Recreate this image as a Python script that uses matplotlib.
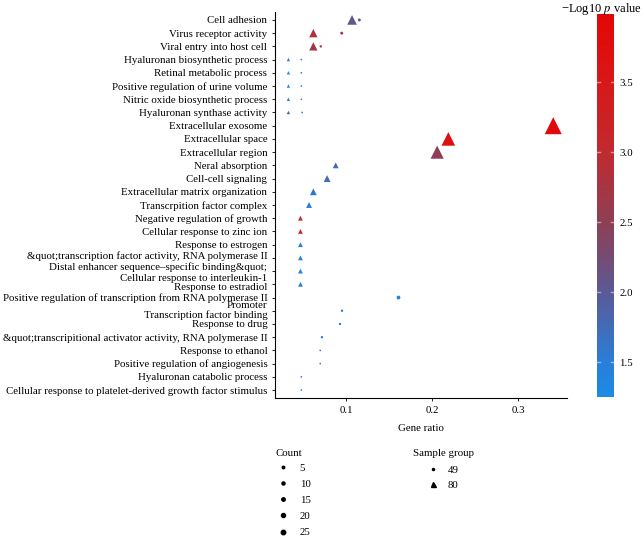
import numpy as np
import matplotlib
matplotlib.use("Agg")
import matplotlib.pyplot as plt
from matplotlib.colors import LinearSegmentedColormap, Normalize
from matplotlib.cm import ScalarMappable
from matplotlib.lines import Line2D
from matplotlib.transforms import ScaledTranslation

plt.rcParams['font.family'] = ['Liberation Serif', 'DejaVu Serif']
plt.rcParams['mathtext.fontset'] = 'stix'

nan = np.nan

# GO terms, top to bottom
terms = [
    "Cell adhesion",
    "Virus receptor activity",
    "Viral entry into host cell",
    "Hyaluronan biosynthetic process",
    "Retinal metabolic process",
    "Positive regulation of urine volume",
    "Nitric oxide biosynthetic process",
    "Hyaluronan synthase activity",
    "Extracellular exosome",
    "Extracellular space",
    "Extracellular region",
    "Neral absorption",
    "Cell-cell signaling",
    "Extracellular matrix organization",
    "Transcrpition factor complex",
    "Negative regulation of growth",
    "Cellular response to zinc ion",
    "Response to estrogen",
    "&quot;transcription factor activity, RNA polymerase II\nDistal enhancer sequence\u2013specific binding&quot;",
    "Cellular response to interleukin-1",
    "Response to estradiol",
    "Positive regulation of transcription from RNA polymerase II\nPromoter",
    "Transcription factor binding",
    "Response to drug",
    "&quot;transcripitional activator activity, RNA polymerase II",
    "Response to ethanol",
    "Positive regulation of angiogenesis",
    "Hyaluronan catabolic process",
    "Cellular response to platelet-derived growth factor stimulus",
]

# sample group 80 (triangles)
ratio80 = [0.107, 0.062, 0.062, 0.033, 0.033, 0.033, 0.033, 0.033, 0.341, 0.219,
           0.206, 0.088, 0.078, 0.062, 0.057, 0.047, 0.047, 0.047, 0.047, 0.047,
           0.047, nan, nan, nan, nan, nan, nan, nan, nan]
logp80 = [2.05, 2.85, 2.7, 1.4, 1.3, 1.35, 1.4, 1.85, 3.9, 3.75,
          2.5, 1.75, 1.75, 1.55, 1.5, 3.0, 3.0, 1.45, 1.45, 1.45,
          1.4, nan, nan, nan, nan, nan, nan, nan, nan]
count80 = [8, 6, 6, 1, 1, 1, 1, 1, 25, 16,
           15, 3, 4, 4, 3, 2, 2, 2, 2, 2,
           2, nan, nan, nan, nan, nan, nan, nan, nan]

# sample group 49 (dots)
ratio49 = [0.1155, 0.095, 0.0706, 0.048, 0.048, 0.048, 0.048, 0.049, nan, nan,
           nan, nan, nan, nan, nan, nan, nan, nan, nan, nan,
           nan, 0.161, 0.0953, 0.093, 0.072, 0.070, 0.070, 0.048, 0.048]
logp49 = [2.1, 2.7, 2.6, 1.5, 1.5, 1.5, 1.5, 1.6, nan, nan,
          nan, nan, nan, nan, nan, nan, nan, nan, nan, nan,
          nan, 1.45, 1.5, 1.5, 1.5, 1.5, 1.5, 1.5, 1.5]
count49 = [3, 3, 2, 1, 1, 1, 1, 1, nan, nan,
           nan, nan, nan, nan, nan, nan, nan, nan, nan, nan,
           nan, 5, 2, 2, 2, 1, 1, 1, 1]

count_levels = ["5", "10", "15", "20", "25"]
group_levels = ["49", "80"]
cbar_ticks = [1.5, 2.0, 2.5, 3.0, 3.5]

cmap = LinearSegmentedColormap.from_list("bluered", [
    (0.0, '#1a8ce6'), (0.09, '#2a7ed8'), (0.27, '#5a5a98'), (0.37, '#774a72'),
    (0.45, '#8c4056'), (0.64, '#c02a30'), (0.82, '#d81818'), (1.0, '#e30606')])
norm = Normalize(vmin=1.25, vmax=3.99)

FS = 7.85
W, H = 644, 539
fig = plt.figure(figsize=(W / 100, H / 100), dpi=100)
ax = fig.add_axes([275 / W, 1 - 398 / H, 292 / W, 386 / H])

y = np.arange(len(terms))
ax.scatter(ratio80, y, s=6 * np.array(count80), c=logp80, cmap=cmap, norm=norm,
           marker='^', linewidths=0, zorder=3)
ax.scatter(ratio49, y, s=6 * np.array(count49), c=logp49, cmap=cmap, norm=norm,
           marker='.', linewidths=0, zorder=3)

ax.set_yticks(y, terms, fontsize=FS)
ax.set_ylim(len(terms) - 0.4, -0.6)
ax.set_xlim(0.0174, 0.357)
ax.set_xticks([0.1, 0.2, 0.3])
ax.tick_params(axis='x', labelsize=FS, length=2.5, width=0.6, pad=3.5)
ax.tick_params(axis='y', length=2.5, width=0.6, pad=3)
ax.set_xlabel("Gene ratio", fontsize=FS, labelpad=6)
for side in ['top', 'right']:
    ax.spines[side].set_visible(False)
for side in ['left', 'bottom']:
    ax.spines[side].set_linewidth(0.8)

# crowded labels sit a little below their ticks, as in the source figure
label_shift_px = {18: 2, 19: 6, 20: 2, 21: 4, 22: 3}
labels = ax.get_yticklabels()
for i, dy in label_shift_px.items():
    lab = labels[i]
    if i == 21:
        lab.set_linespacing(0.75)
    lab.set_transform(lab.get_transform() +
                      ScaledTranslation(0, -dy / 100, fig.dpi_scale_trans))

# colour bar
cax = fig.add_axes([597 / W, 1 - 397 / H, 17 / W, 383 / H])
cb = fig.colorbar(ScalarMappable(norm=norm, cmap=cmap), cax=cax)
cb.outline.set_visible(False)
cb.set_ticks(cbar_ticks)
cax.tick_params(length=0, labelsize=FS, pad=4)
for t in cbar_ticks:
    cax.axhline(t, 0, 0.2, color='white', lw=1, alpha=0.5)
    cax.axhline(t, 0.8, 1, color='white', lw=1, alpha=0.5)
fig.text(642 / W, 1 - 1 / H, "\u2212Log10 $p$ value", ha='right', va='top', fontsize=9)

# legends
fig.text(275 / W, 1 - 453 / H, "Count", ha='left', va='center', fontsize=FS)
count_handles = [Line2D([], [], ls='', marker='o', color='black', markersize=ms)
                 for ms in [1.8, 2.2, 2.5, 2.9, 3.2]]
fig.legend(count_handles, count_levels, loc='upper left',
           bbox_to_anchor=(278 / W, 1 - 463 / H), frameon=False, fontsize=FS,
           handlelength=1.0, handletextpad=1.0, labelspacing=0.6,
           borderpad=0, borderaxespad=0)

fig.text(413 / W, 1 - 453 / H, "Sample group", ha='left', va='center', fontsize=FS)
group_handles = [Line2D([], [], ls='', marker='.', color='black', markersize=3),
                 Line2D([], [], ls='', marker='^', color='black', markersize=3.6)]
fig.legend(group_handles, group_levels, loc='upper left',
           bbox_to_anchor=(428 / W, 1 - 465 / H), frameon=False, fontsize=FS,
           handlelength=1.0, handletextpad=0.8, labelspacing=0.5,
           borderpad=0, borderaxespad=0)

fig.savefig("out.png", dpi=100)
